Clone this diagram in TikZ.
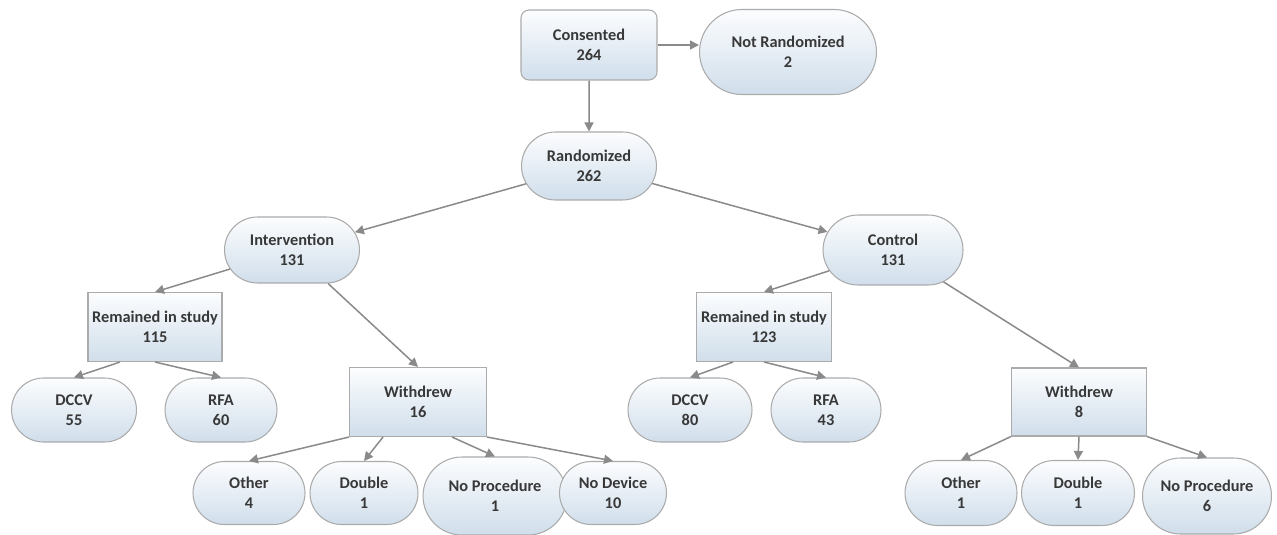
\documentclass[tikz,border=0pt]{standalone}
\usepackage{fontspec}
\setmainfont{Carlito}
\usetikzlibrary{shapes.misc,arrows.meta}

\definecolor{boxtop}{HTML}{FCFDFE}
\definecolor{boxbot}{HTML}{D0DEEB}
\definecolor{boxline}{HTML}{ABABAB}
\definecolor{linkgray}{HTML}{8A8A8A}
\definecolor{textgray}{HTML}{383838}

\tikzset{
  base/.style={draw=boxline, line width=0.6pt, top color=boxtop, bottom color=boxbot,
    text=textgray, font=\fontsize{9.3}{11.5}\selectfont\bfseries, align=center, inner sep=0pt},
  pill/.style={base, rounded rectangle},
  box/.style={base, rectangle},
  rbox/.style={base, rectangle, rounded corners=0.16cm},
  link/.style={draw=linkgray, line width=0.85pt, -{Triangle[length=1.8mm,width=1.8mm]}}
}

\begin{document}
\begin{tikzpicture}[x=0.02cm, y=-0.02cm]
    \useasboundingbox[fill=white] (0,0) rectangle (1277,534);

    % top
    \node[rbox, minimum width=2.72cm, minimum height=1.40cm] (cons) at (589,45) {Consented\\264};
    \node[pill, minimum width=3.54cm, minimum height=1.70cm] (notr) at (788,52) {Not Randomized\\2};
    \node[pill, minimum width=2.70cm, minimum height=1.36cm] (rand) at (589,166) {Randomized\\262};

    % arms
    \node[pill, minimum width=2.70cm, minimum height=1.32cm] (int) at (292,250) {Intervention\\131};
    \node[pill, minimum width=2.80cm, minimum height=1.40cm] (ctrl) at (893,250) {Control\\131};

    % intervention side
    \node[box, minimum width=2.68cm, minimum height=1.38cm] (remL) at (155,327) {Remained in study\\115};
    \node[pill, minimum width=2.50cm, minimum height=1.28cm] (dccvL) at (74,410) {DCCV\\55};
    \node[pill, minimum width=2.24cm, minimum height=1.28cm] (rfaL) at (221,410) {RFA\\60};
    \node[box, minimum width=2.74cm, minimum height=1.38cm] (wdL) at (418,402) {Withdrew\\16};
    \node[pill, minimum width=2.24cm, minimum height=1.26cm] (othL) at (249,493) {Other\\4};
    \node[pill, minimum width=2.16cm, minimum height=1.26cm] (dblL) at (364,493) {Double\\1};
    \node[pill, minimum width=2.88cm, minimum height=1.56cm] (nprocL) at (495,496) {No Procedure\\1};
    \node[pill, minimum width=2.14cm, minimum height=1.26cm] (ndev) at (613,493) {No Device\\10};

    % control side
    \node[box, minimum width=2.70cm, minimum height=1.38cm] (remR) at (764,327) {Remained in study\\123};
    \node[pill, minimum width=2.48cm, minimum height=1.28cm] (dccvR) at (690,410) {DCCV\\80};
    \node[pill, minimum width=2.20cm, minimum height=1.28cm] (rfaR) at (826,410) {RFA\\43};
    \node[box, minimum width=2.70cm, minimum height=1.36cm] (wdR) at (1079,402) {Withdrew\\8};
    \node[pill, minimum width=2.24cm, minimum height=1.30cm] (othR) at (961,493) {Other\\1};
    \node[pill, minimum width=2.26cm, minimum height=1.30cm] (dblR) at (1078,493) {Double\\1};
    \node[pill, minimum width=2.58cm, minimum height=1.52cm] (nprocR) at (1207,496) {No Procedure\\6};

    % arrows
    \draw[link] (cons.east) -- (cons.east -| notr.west);
    \draw[link] (cons) -- (rand);
    \draw[link] (rand) -- (int);
    \draw[link] (rand) -- (ctrl);

    \draw[link] (int) -- (remL.north);
    \draw[link] (int) -- (wdL.north);
    \draw[link] ([xshift=-0.7cm]remL.south) -- (dccvL.north);
    \draw[link] (remL.south) -- (rfaL.north);
    \draw[link] (wdL.south west) -- (othL.north);
    \draw[link] ([xshift=-0.7cm]wdL.south) -- (dblL.north);
    \draw[link] ([xshift=0.68cm]wdL.south) -- (nprocL.north);
    \draw[link] (wdL.south east) -- (ndev.north);

    \draw[link] (ctrl) -- (remR.north);
    \draw[link] (ctrl) -- (wdR.north);
    \draw[link] ([xshift=-0.62cm]remR.south) -- (dccvR.north);
    \draw[link] (remR.south) -- (rfaR.north);
    \draw[link] (wdR.south west) -- (othR.north);
    \draw[link] (wdR.south) -- (dblR.north);
    \draw[link] (wdR.south east) -- (nprocR.north);

  \end{tikzpicture}
\end{document}
